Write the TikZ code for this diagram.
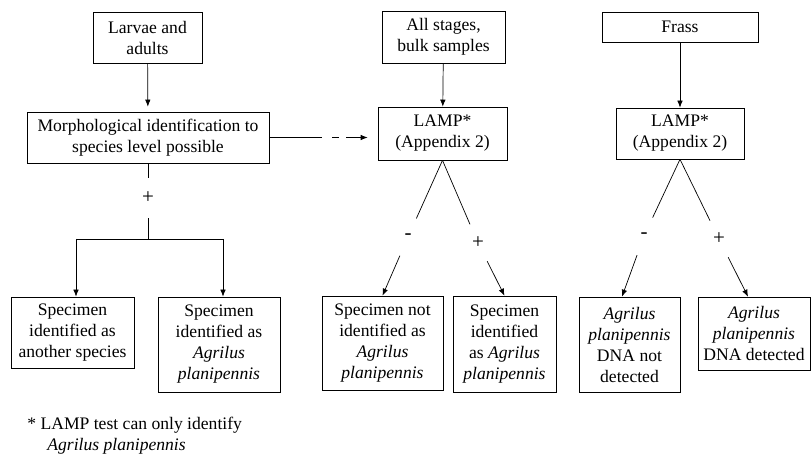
\documentclass[tikz,border=0pt]{standalone}
\usepackage{fontspec}
\setmainfont{Liberation Serif}
\usetikzlibrary{arrows.meta}

\tikzset{
	blk/.style={draw, align=center, inner sep=0pt},
	sign/.style={circle, inner sep=0pt, minimum size=40pt, font=\fontsize{21}{24}\selectfont}
}

\begin{document}
\begin{tikzpicture}[x=1pt, y=-1pt, line width=0.7pt, >={Latex[length=7pt, width=5.5pt]},
		font=\fontsize{17.6}{21}\selectfont]
			\useasboundingbox (0,0) rectangle (812,454);

			\node[blk, minimum width=109pt, minimum height=51pt] (larvae) at (147.5,37.5) {Larvae and\\adults};
			\node[blk, minimum width=242pt, minimum height=51pt] (morph) at (148,137.5) {Morphological identification to\\species level possible};
			\node[blk, minimum width=123pt, minimum height=52pt] (allst) at (443.5,37) {All stages,\\bulk samples};
			\node[blk, minimum width=129pt, minimum height=53pt] (lampA) at (442.5,133.5) {LAMP*\\(Appendix 2)};
			\node[blk, minimum width=156pt, minimum height=30pt] (frass) at (680,27) {Frass};
			\node[blk, minimum width=128pt, minimum height=51pt] (lampB) at (680,133.5) {LAMP*\\(Appendix 2)};

			\node[blk, minimum width=123pt, minimum height=71pt] (other) at (72.5,332.5) {Specimen\\identified as\\another species};
			\node[blk, minimum width=122pt, minimum height=95pt] (epA) at (219,344.5) {Specimen\\identified as\\\textit{Agrilus}\\\textit{planipennis}};
			\node[blk, minimum width=121pt, minimum height=94pt] (notid) at (382.5,343) {Specimen not\\identified as\\\textit{Agrilus}\\\textit{planipennis}};
			\node[blk, minimum width=103pt, minimum height=96pt] (idas) at (504.5,344) {Specimen\\identified\\as \textit{Agrilus}\\\textit{planipennis}};
			\node[blk, minimum width=101pt, minimum height=95pt] (dnano) at (629.5,344.5) {\textit{Agrilus}\\\textit{planipennis}\\DNA not\\detected};
			\node[blk, minimum width=112pt, minimum height=73pt] (dnayes) at (754,333.5) {\textit{Agrilus}\\\textit{planipennis}\\DNA detected};

			\node[sign] (pL) at (148,198) {+};
			\node[sign] (mA) at (408,237) {-};
			\node[sign] (pA) at (478,243) {+};
			\node[sign] (mB) at (644,236) {-};
			\node[sign] (pB) at (719,239) {+};

			\coordinate (brT) at (148,239);
			\coordinate (brL) at (76,239);
			\coordinate (brR) at (223,239);

			\node[anchor=base west, inner sep=0pt] (fnote) at (27,430) {* LAMP test can only identify};
			\node[anchor=base west, inner sep=0pt] (fnsp) at (47,451) {\textit{Agrilus planipennis}};

			\path
			(morph) edge (pL)
			(pL) edge (brT)
			(brL) edge (brR)
			(lampA.south) edge (mA)
			(lampA.south) edge (pA)
			(lampB.south) edge (mB)
			(lampB.south) edge (pB);

			\path[->]
			(larvae) edge[shorten >=5pt] (morph)
			(allst) edge (lampA)
			(frass) edge (lampB)
			(brL) edge (brL |- other.north)
			(brR) edge (brR |- epA.north)
			(mA) edge (notid.north)
			(pA) edge (idas.north)
			(mB) edge ([xshift=-7.5pt]dnano.north)
			(pB) edge ([xshift=-6pt]dnayes.north);

			\draw[->, dash pattern=on 53pt off 10pt on 7pt off 7pt on 100pt, shorten >=10pt]
			(morph.east) -- (morph.east -| lampA.west);
		\end{tikzpicture}
\end{document}
